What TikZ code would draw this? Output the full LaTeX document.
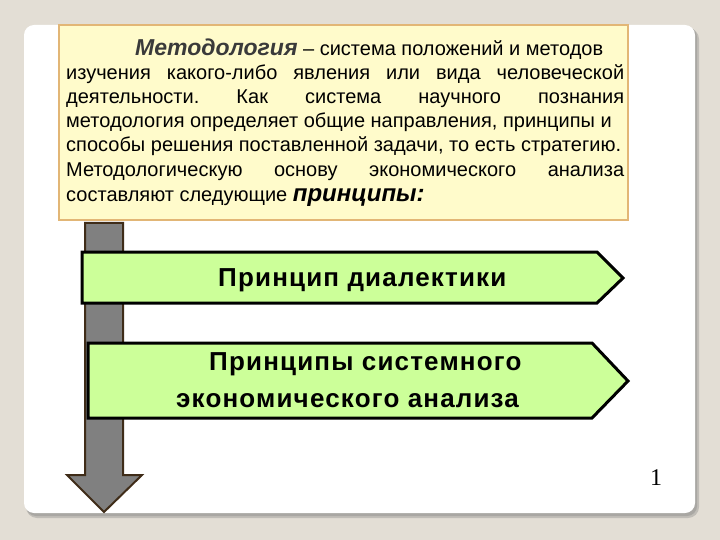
\documentclass[tikz,border=0pt]{standalone}
\usepackage{fontspec}
\setmainfont{Liberation Sans}
\newfontfamily\numfont{Liberation Serif}
\newfontfamily\labelfont[LetterSpace=4.5]{Liberation Sans}
\definecolor{bgc}{HTML}{E3DED5}
\definecolor{shadowc}{HTML}{A9A7A3}
\definecolor{tbfill}{HTML}{FFFBCB}
\definecolor{tbborder}{HTML}{E2B676}
\definecolor{arrfill}{HTML}{808080}
\definecolor{arrborder}{HTML}{3F2C18}
\definecolor{pentfill}{HTML}{CCFF99}
\definecolor{headc}{HTML}{3A3A3A}
\tikzset{
  txtline/.style={anchor=base west, inner sep=0pt, font=\fontsize{20}{24}\selectfont\frenchspacing},
  penta/.style={draw=black, fill=pentfill, line width=3pt, line join=miter},
  pentlabel/.style={anchor=base west, inner sep=0pt, font=\labelfont\fontsize{26}{30}\selectfont\bfseries},
}
\begin{document}
\begin{tikzpicture}[x=1pt,y=-1pt]
\useasboundingbox (0,0) rectangle (720,540);
\fill[bgc] (0,0) rectangle (720,540);
% card with shadow
\fill[shadowc!60!bgc, rounded corners=11pt] (26,28) rectangle (699,518);
\fill[shadowc, rounded corners=10pt] (26,27) rectangle (697,516);
\fill[white, rounded corners=10pt] (24,25) rectangle (695,513);
% text box
\draw[draw=tbborder, fill=tbfill, line width=1.2pt] (59,25) rectangle (628,220);
\node[txtline] (l1) at (135,56) {{\fontsize{23}{26}\selectfont\bfseries\itshape\color{headc}Методология} – система положений и методов};
\node[txtline] (l2) at (66,80) {\makebox[558pt][s]{изучения какого-либо явления или вида человеческой}};
\node[txtline] (l3) at (66,104) {\makebox[558pt][s]{деятельности. Как система научного познания}};
\node[txtline] (l4) at (66,128) {методология определяет общие направления, принципы и};
\node[txtline] (l5) at (66,152) {способы решения поставленной задачи, то есть стратегию.};
\node[txtline] (l6) at (66,177) {\makebox[558pt][s]{Методологическую основу экономического анализа}};
\node[txtline] (l7) at (66,202) {составляют следующие {\fontsize{24}{26}\selectfont\bfseries\itshape принципы:}};
% vertical arrow
\draw[draw=arrborder, fill=arrfill, line width=2pt, line join=miter]
  (85,223) -- (123,223) -- (123,475) -- (142,475) -- (104,512) -- (67,475) -- (85,475) -- cycle;
% pentagons
\draw[penta] (82,252) -- (597,252) -- (623,278) -- (597,303) -- (82,303) -- cycle;
\node[pentlabel] (p1) at (218,286) {Принцип диалектики};
\draw[penta] (88,343) -- (592,343) -- (628,381) -- (592,418) -- (88,418) -- cycle;
\node[pentlabel] (p2a) at (209,370) {Принципы системного};
\node[pentlabel] (p2b) at (176,407) {экономического анализа};
% page number
\node[inner sep=0pt, font=\numfont\fontsize{24}{26}\selectfont] (num) at (656,478) {1};
\end{tikzpicture}
\end{document}
